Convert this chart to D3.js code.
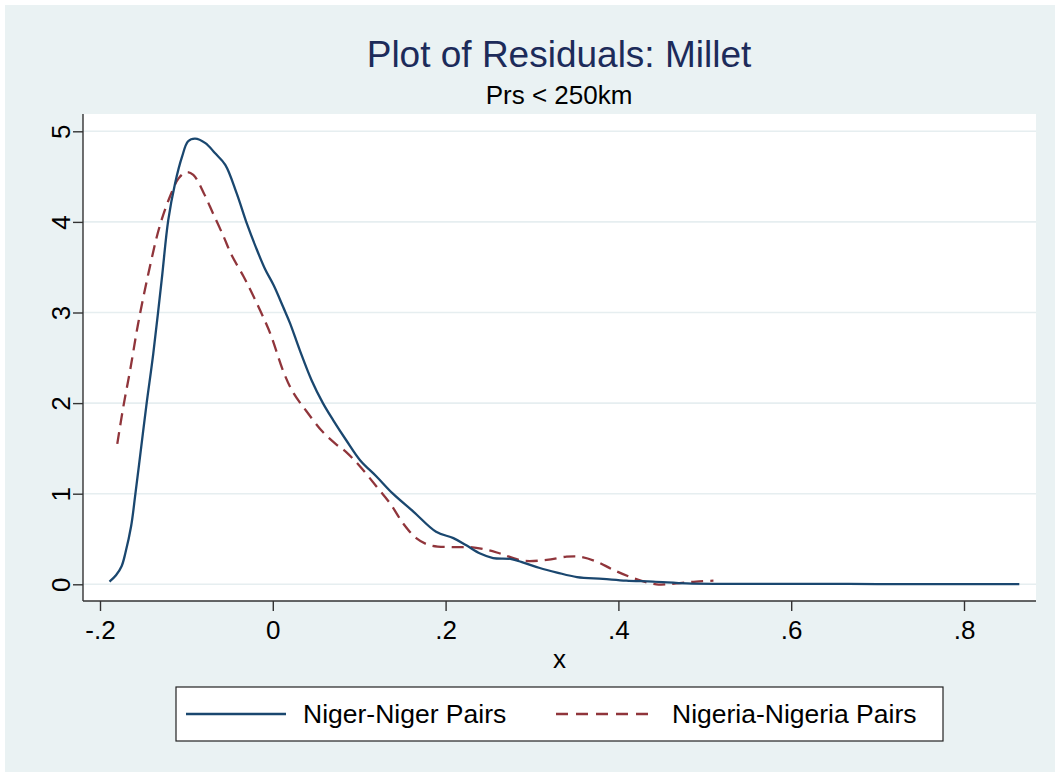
<!DOCTYPE html>
<html>
<head>
<meta charset="utf-8">
<script src="https://cdn.jsdelivr.net/npm/d3@7"></script>
<style>
  body { margin: 0; background: #fff; }
  svg text { font-family: "Liberation Sans", Arial, Helvetica, sans-serif; }
</style>
</head>
<body>
<div id="canvas"></div>
<script>
// Niger-Niger pairs (kernel density of residuals)
const nigerX = [-0.189, -0.1815, -0.175, -0.1705, -0.164, -0.159, -0.1525, -0.146, -0.1383, -0.1286, -0.121,
  -0.113, -0.105, -0.098, -0.090, -0.078, -0.067, -0.055, -0.042, -0.030, -0.020,
  -0.009, 0.001, 0.012, 0.020, 0.031, 0.045, 0.058, 0.070, 0.085, 0.101,
  0.120, 0.139, 0.163, 0.189, 0.209, 0.224, 0.240, 0.255, 0.275, 0.290,
  0.309, 0.329, 0.352, 0.382, 0.409, 0.440, 0.479, 0.52, 0.6, 0.7, 0.8, 0.864];
const nigerY = [0.03, 0.10, 0.20, 0.35, 0.64, 1.0, 1.5, 2.0, 2.55, 3.36, 4.02,
  4.43, 4.72, 4.89, 4.92, 4.87, 4.76, 4.63, 4.32, 3.98, 3.73,
  3.48, 3.30, 3.06, 2.88, 2.59, 2.25, 2.00, 1.81, 1.59, 1.37,
  1.19, 1.00, 0.80, 0.58, 0.51, 0.43, 0.34, 0.29, 0.28, 0.24,
  0.18, 0.13, 0.08, 0.06, 0.04, 0.03, 0.01, 0.005, 0.005, 0.003, 0.002, 0.001];

// Nigeria-Nigeria pairs
const nigeriaX = [-0.180, -0.173, -0.165, -0.156, -0.144, -0.131, -0.119, -0.109, -0.100, -0.092,
  -0.080, -0.069, -0.057, -0.048, -0.034, -0.026, -0.015, -0.003, 0.013, 0.024,
  0.039, 0.058, 0.074, 0.085, 0.101, 0.120, 0.136, 0.151, 0.166, 0.182,
  0.209, 0.229, 0.248, 0.263, 0.290, 0.317, 0.340, 0.355, 0.375, 0.394,
  0.417, 0.444, 0.467, 0.490, 0.510];
const nigeriaY = [1.55, 1.96, 2.37, 2.87, 3.43, 3.95, 4.28, 4.48, 4.55, 4.52,
  4.32, 4.09, 3.84, 3.64, 3.40, 3.25, 3.03, 2.77, 2.33, 2.11,
  1.91, 1.68, 1.54, 1.46, 1.30, 1.08, 0.89, 0.67, 0.51, 0.43,
  0.41, 0.41, 0.38, 0.34, 0.26, 0.27, 0.305, 0.305, 0.25, 0.16,
  0.07, 0.0, 0.01, 0.03, 0.04];

const xTicks = [-0.2, 0, 0.2, 0.4, 0.6, 0.8];
const xTickLabels = ["-.2", "0", ".2", ".4", ".6", ".8"];
const yTicks = [0, 1, 2, 3, 4, 5];
const seriesNames = ["Niger-Niger Pairs", "Nigeria-Nigeria Pairs"];

const width = 1055;
const height = 772;
const blue = "#1a476f";
const red = "#90353b";

const svg = d3.select("#canvas").append("svg")
  .attr("width", width)
  .attr("height", height);

// outer background
svg.append("rect").attr("x", 5).attr("y", 5)
  .attr("width", width - 5).attr("height", height - 5)
  .attr("fill", "#eaf2f3");

const plot = { left: 83, right: 1036, top: 114, bottom: 601 };

const x = d3.scaleLinear().domain([-0.2, 0.8]).range([100, 964]);
const y = d3.scaleLinear().domain([0, 5]).range([584.3, 131.3]);

svg.append("rect")
  .attr("x", plot.left).attr("y", plot.top)
  .attr("width", plot.right - plot.left).attr("height", plot.bottom - plot.top)
  .attr("fill", "#fff");

// grid
svg.append("g").selectAll("line").data(yTicks).join("line")
  .attr("x1", plot.left).attr("x2", plot.right)
  .attr("y1", d => y(d)).attr("y2", d => y(d))
  .attr("stroke", "#e6eef0").attr("stroke-width", 1.6);

// y axis
const yAxis = svg.append("g")
  .attr("transform", `translate(${plot.left},0)`)
  .call(d3.axisLeft(y).tickValues(yTicks).tickSize(10).tickSizeOuter(0).tickFormat(d3.format("d")));
yAxis.select(".domain").remove();
yAxis.append("line").attr("x1", 0).attr("x2", 0)
  .attr("y1", plot.top).attr("y2", plot.bottom)
  .attr("stroke", "#333").attr("stroke-width", 1.4);
yAxis.selectAll(".tick line").attr("stroke", "#333").attr("stroke-width", 1.4);
yAxis.selectAll(".tick text")
  .attr("x", null).attr("dy", null)
  .attr("transform", "translate(-13,0) rotate(-90)")
  .attr("text-anchor", "middle")
  .attr("fill", "#000")
  .style("font-size", "26px");

// x axis
const xAxis = svg.append("g")
  .attr("transform", `translate(0,${plot.bottom})`)
  .call(d3.axisBottom(x).tickValues(xTicks).tickSize(10).tickSizeOuter(0)
    .tickFormat((d, i) => xTickLabels[i]));
xAxis.select(".domain").remove();
xAxis.append("line").attr("x1", plot.left).attr("x2", plot.right)
  .attr("y1", 0).attr("y2", 0)
  .attr("stroke", "#333").attr("stroke-width", 1.4);
xAxis.selectAll(".tick line").attr("stroke", "#333").attr("stroke-width", 1.4);
xAxis.selectAll(".tick text")
  .attr("y", 38).attr("dy", null)
  .attr("fill", "#000")
  .style("font-size", "26px");

svg.append("text")
  .attr("x", (plot.left + plot.right) / 2).attr("y", 668)
  .attr("text-anchor", "middle")
  .style("font-size", "26px")
  .text("x");

// lines
const nigerData = nigerX.map((d, i) => [d, nigerY[i]]);
const nigeriaData = nigeriaX.map((d, i) => [d, nigeriaY[i]]);
const line = d3.line()
  .x(d => x(d[0]))
  .y(d => y(d[1]))
  .curve(d3.curveCatmullRom.alpha(0.5));

svg.append("path").datum(nigeriaData)
  .attr("d", line)
  .attr("fill", "none")
  .attr("stroke", red)
  .attr("stroke-width", 2.3)
  .attr("stroke-dasharray", "12,7");

svg.append("path").datum(nigerData)
  .attr("d", line)
  .attr("fill", "none")
  .attr("stroke", blue)
  .attr("stroke-width", 2.3);

// titles
svg.append("text")
  .attr("x", 559).attr("y", 67)
  .attr("text-anchor", "middle")
  .attr("fill", "#1c2b5a")
  .style("font-size", "37px")
  .text("Plot of Residuals: Millet");

svg.append("text")
  .attr("x", 559).attr("y", 104)
  .attr("text-anchor", "middle")
  .attr("fill", "#000")
  .style("font-size", "26px")
  .text("Prs < 250km");

// legend
const legend = svg.append("g");
legend.append("rect")
  .attr("x", 176).attr("y", 687)
  .attr("width", 767).attr("height", 54)
  .attr("fill", "#fff").attr("stroke", "#222").attr("stroke-width", 1.2);

const legendItems = [
  { name: seriesNames[0], color: blue, dash: null, x0: 186, tx: 303 },
  { name: seriesNames[1], color: red, dash: "12,8", x0: 556, tx: 672 }
];
legendItems.forEach(it => {
  legend.append("line")
    .attr("x1", it.x0).attr("x2", it.x0 + 100)
    .attr("y1", 714).attr("y2", 714)
    .attr("stroke", it.color).attr("stroke-width", 2.3)
    .attr("stroke-dasharray", it.dash);
  legend.append("text")
    .attr("x", it.tx).attr("y", 723)
    .style("font-size", "26.5px")
    .text(it.name);
});
</script>
</body>
</html>
